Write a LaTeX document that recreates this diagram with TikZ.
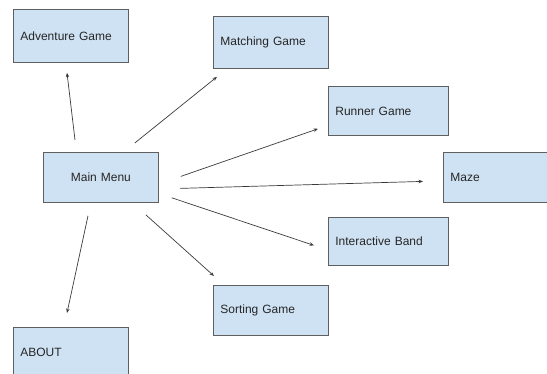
\documentclass[tikz,border=0pt]{standalone}
\usepackage{fontspec}
\setmainfont{Liberation Sans}
\usetikzlibrary{arrows.meta,positioning}
\definecolor{boxfill}{HTML}{CFE2F3}
\definecolor{boxline}{HTML}{5F5F5F}
\definecolor{linkcol}{HTML}{3A3A3A}
\definecolor{textcol}{HTML}{262626}

\begin{document}
\begin{tikzpicture}[x=1pt,y=-1pt,
    gamebox/.style={draw=boxline, fill=boxfill, line width=0.8pt, anchor=north west,
      inner xsep=7pt, text width=101pt, align=left, minimum height=50pt,
      text=textcol, font=\fontsize{12}{14}\selectfont},
    widebox/.style={gamebox, text width=106pt},
    link/.style={draw=linkcol, line width=0.7pt, -{Stealth[length=4.5pt,width=3.5pt]}}]
  \useasboundingbox (0,0) rectangle (547,374);

  % the boxes
  \node[gamebox, minimum height=53pt] (adv) at (13,9) {Adventure Game};
  \node[gamebox, minimum height=52pt] (match) at (213,16) {Matching Game};
  \node[widebox, minimum height=49pt] (runner) at (328,86) {Runner Game};
  \node[gamebox, align=center] (main) at (43,152) {Main Menu};
  \node[widebox] (maze) at (443,152) {Maze};
  \node[widebox, minimum height=48pt] (band) at (328,217) {Interactive Band};
  \node[gamebox] (sort) at (213,285) {Sorting Game};
  \node[gamebox] (about) at (13,327) {ABOUT};

  % the links
  \draw[link] ([shift={(32,-12)}]main.north west) -- ([shift={(54,10)}]adv.south west);
  \draw[link] ([shift={(-24,-9)}]main.north east) -- ([shift={(4,8)}]match.south west);
  \draw[link] ([shift={(22,-1)}]main.east) -- ([shift={(-10,-7)}]runner.south west);
  \draw[link] ([shift={(21,11)}]main.east) -- ([shift={(-20,4)}]maze.west);
  \draw[link] ([shift={(13,-5)}]main.south east) -- ([shift={(-14,4)}]band.west);
  \draw[link] ([shift={(-13,12)}]main.south east) -- ([shift={(1,-9)}]sort.north west);
  \draw[link] ([shift={(45,13)}]main.south west) -- ([shift={(54,-14)}]about.north west);
\end{tikzpicture}
\end{document}
